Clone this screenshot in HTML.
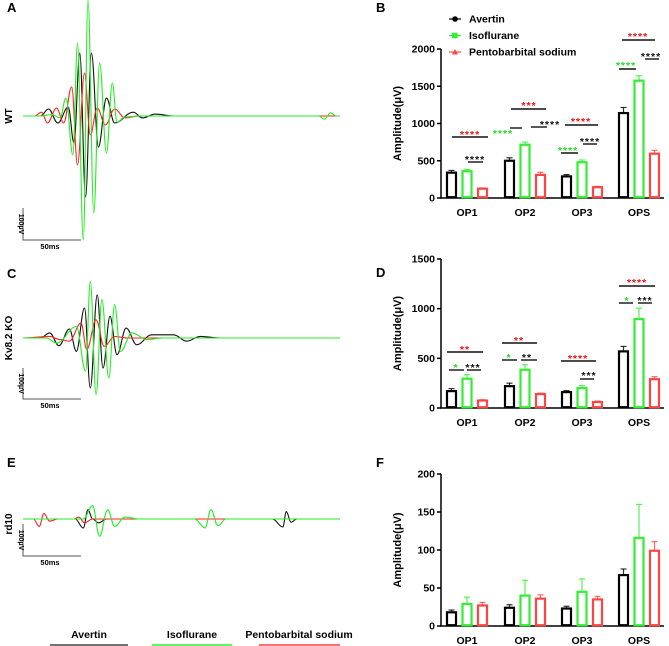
<!DOCTYPE html>
<html><head><meta charset="utf-8"><style>
body{margin:0;background:#fff}
svg{display:block;font-family:"Liberation Sans",sans-serif}
</style></head><body>
<svg id="s" width="669" height="646" viewBox="0 0 669 646">
<g font-weight="bold" font-size="13">
<text x="7" y="12">A</text>
<text x="376" y="12">B</text>
<text x="7" y="278">C</text>
<text x="376" y="277">D</text>
<text x="7" y="467">E</text>
<text x="376" y="467">F</text>
</g>
<g font-weight="bold" font-size="10">
<text transform="translate(12,116) rotate(-90)" text-anchor="middle">WT</text>
<text transform="translate(12,338) rotate(-90)" text-anchor="middle">Kv8.2 KO</text>
<text transform="translate(12,524) rotate(-90)" text-anchor="middle">rd10</text>
</g>
<g id="legend-bottom" font-weight="bold" font-size="10.5">
<text x="89" y="638" text-anchor="middle">Avertin</text>
<line x1="50" y1="645" x2="128" y2="645" stroke="#444" stroke-width="1.5"/>
<text x="192" y="638" text-anchor="middle">Isoflurane</text>
<line x1="152" y1="645" x2="232" y2="645" stroke="#33ee33" stroke-width="1.5"/>
<text x="299" y="638" text-anchor="middle">Pentobarbital sodium</text>
<line x1="259" y1="645" x2="340" y2="645" stroke="#ff4444" stroke-width="1.5"/>
</g>
</svg>
<script>
// ---------- waveform data (time ms, amplitude µV) ----------
const waveA_avertin_t=[0,15,22,30,39,44,49,54,59,65,72,79,95,103,114,130,273];
const waveA_avertin_a=[0,0,22,-22,28,-84,197,-253,197,-97,56,-22,12,-6,6,0,0];
const waveA_iso_t=[0,15,25,32,37,43,47,52,56,61,66,72,77,81,88,100,255,260,265,270,273];
const waveA_iso_a=[0,0,4,-6,56,-122,228,-388,362,-303,166,-116,103,-19,-3,0,0,-10,10,0,0];
const waveA_pento_t=[0,10,16,21,29,35,42,47,53,58,64,71,79,88,100,273];
const waveA_pento_a=[0,0,12,-22,25,-22,91,-153,134,-59,25,-28,22,-6,0,0];
const waveC_avertin_t=[0,15,23,31,40,46,53,58,64,69,75,81,89,98,111,130,141,153,170,273];
const waveC_avertin_a=[0,0,16,-24,28,-42,94,-156,135,-94,68,-52,31,-21,10,10,-10,5,0,0];
const waveC_iso_t=[0,20,29,46,54,58,63,68,74,79,84,94,107,120,273];
const waveC_iso_a=[0,0,-16,36,-104,177,-177,120,-125,104,-42,16,-5,0,0];
const waveC_pento_t=[0,23,32,40,50,55,63,70,79,90,273];
const waveC_pento_a=[0,5,-5,-10,47,-36,57,-26,5,0,0];
const waveE_avertin_t=[0,45,52,56,60,65,72,215,224,227,231,236,273];
const waveE_avertin_a=[0,0,-28,29,0,-12,0,0,-25,23,-10,0,0];
const waveE_iso_t=[0,52,60,66,73,79,88,100,148,157,162,168,175,273];
const waveE_iso_a=[0,0,42,-54,29,-23,6,0,0,-28,29,-21,0,0];
const waveE_pento_t=[0,9,14,18,23,30,44,48,53,60,273];
const waveE_pento_a=[0,0,-23,17,-7,0,0,6,-12,0,0];

// ---------- bar chart data ----------
const categories=["OP1","OP2","OP3","OPS"];
const groups=["Avertin","Isoflurane","Pentobarbital sodium"];
const B_avertin=[340,500,290,1140], B_avertin_err=[30,40,25,75];
const B_iso=[360,715,480,1575], B_iso_err=[25,35,30,65];
const B_pento=[125,310,145,595], B_pento_err=[10,35,10,45];
const B_ticks=[0,500,1000,1500,2000];
const D_avertin=[170,220,160,570], D_avertin_err=[25,30,15,50];
const D_iso=[295,385,200,895], D_iso_err=[40,50,25,110];
const D_pento=[75,140,60,290], D_pento_err=[8,10,10,25];
const D_ticks=[0,500,1000,1500];
const F_avertin=[18,24,23,67], F_avertin_err=[3,4,3,8];
const F_iso=[29,40,45,116], F_iso_err=[9,20,17,44];
const F_pento=[27,36,35,99], F_pento_err=[4,5,4,12];
const F_ticks=[0,50,100,150,200];

const NS="http://www.w3.org/2000/svg";
const svg=document.getElementById('s');
const COL=["#000000","#33ee33","#ff4444"];
const TCOL=["#111111","#22dd22","#ee1111"];
function mk(tag,attrs,parent){const e=document.createElementNS(NS,tag);for(const k in attrs)e.setAttribute(k,attrs[k]);(parent||svg).appendChild(e);return e;}

function smoothPath(pts){
  let d="M"+pts[0][0].toFixed(1)+","+pts[0][1].toFixed(1);
  for(let i=0;i<pts.length-1;i++){
    const p1=pts[i],p2=pts[i+1],dx=(p2[0]-p1[0])*0.38;
    d+="C"+(p1[0]+dx).toFixed(1)+","+p1[1].toFixed(1)+" "+(p2[0]-dx).toFixed(1)+","+p2[1].toFixed(1)+" "+p2[0].toFixed(1)+","+p2[1].toFixed(1);
  }
  return d;
}
function drawWave(ts,as,base,color,name){
  const xs=t=>23+t*1.16, ys=a=>base-a*0.32;
  const pts=ts.map((t,i)=>[xs(t),ys(as[i])]);
  const p=mk('path',{d:smoothPath(pts),fill:"none",stroke:color,"stroke-width":1.1});
  
  
}
drawWave(waveA_avertin_t,waveA_avertin_a,116,"#111","wt-avertin-trace");
drawWave(waveA_pento_t,waveA_pento_a,116,"#ff2222","wt-pentobarbital-trace");
drawWave(waveA_iso_t,waveA_iso_a,116,"#22ee22","wt-isoflurane-trace");
drawWave(waveC_avertin_t,waveC_avertin_a,338,"#111","ko-avertin-trace");
drawWave(waveC_pento_t,waveC_pento_a,338,"#ff2222","ko-pentobarbital-trace");
drawWave(waveC_iso_t,waveC_iso_a,338,"#22ee22","ko-isoflurane-trace");
drawWave(waveE_avertin_t,waveE_avertin_a,519,"#111","rd10-avertin-trace");
drawWave(waveE_pento_t,waveE_pento_a,519,"#ff2222","rd10-pentobarbital-trace");
drawWave(waveE_iso_t,waveE_iso_a,519,"#22ee22","rd10-isoflurane-trace");

// scale bars
[[208,240,252],[368,399,411],[524,556,568]].forEach((s,i)=>{
  const g=mk('g',{});
  
  
  mk('path',{d:`M23,${s[0]}V${s[1]}H81`,stroke:"#555",fill:"none","stroke-width":1},g);
  mk('text',{x:50,y:s[2]-3,"text-anchor":"middle","font-size":"7.5","font-weight":"bold"},g).textContent="50ms";
  const t=mk('text',{transform:`translate(19,${(s[0]+s[1])/2}) rotate(90)`,"text-anchor":"middle","font-size":"7","font-weight":"bold"},g);
  t.textContent="100μV";
});

const cx=[467,525,582,639], off=15.5, bw=9;
function barChart(name,y0,yTop,maxV,ticks,vals,errs,labelY){
  const g=mk('g',{});
  
  
  const ys=v=>y0-(v/maxV)*(y0-yTop);
  mk('line',{x1:441,y1:yTop,x2:441,y2:y0,stroke:"#000","stroke-width":1.5},g);
  mk('line',{x1:440,y1:y0,x2:664,y2:y0,stroke:"#000","stroke-width":1.5},g);
  ticks.forEach(t=>{
    mk('line',{x1:437,y1:ys(t),x2:441,y2:ys(t),stroke:"#000","stroke-width":1.5},g);
    const tx=mk('text',{x:435,y:ys(t)+3.5,"text-anchor":"end","font-size":"10.5","font-weight":"bold"},g);
    tx.textContent=t;
  });
  const yl=mk('text',{transform:`translate(401,${(y0+yTop)/2}) rotate(-90)`,"text-anchor":"middle","font-size":"11","font-weight":"bold"},g);
  yl.textContent="Amplitude(μV)";
  categories.forEach((c,i)=>{
    const t=mk('text',{x:cx[i],y:labelY,"text-anchor":"middle","font-size":"10.5","font-weight":"bold"},g);
    t.textContent=c;
  });
  vals.forEach((arr,gi)=>{
    arr.forEach((v,i)=>{
      const x=cx[i]+(gi-1)*off;
      const top=ys(v), et=ys(v+errs[gi][i]);
      mk('line',{x1:x,y1:top,x2:x,y2:et,stroke:COL[gi],"stroke-width":1.2,opacity:0.8},g);
      mk('line',{x1:x-3,y1:et,x2:x+3,y2:et,stroke:COL[gi],"stroke-width":1.2,opacity:0.8},g);
      const r=mk('rect',{x:x-bw/2,y:top,width:bw,height:y0-top-0.8,fill:"#fff",stroke:COL[gi],"stroke-width":2.2},g);
      
      
    });
  });
}
barChart("chart-b-wt",198,49,2000,B_ticks,[B_avertin,B_iso,B_pento],[B_avertin_err,B_iso_err,B_pento_err],216);
barChart("chart-d-kv82ko",408,259,1500,D_ticks,[D_avertin,D_iso,D_pento],[D_avertin_err,D_iso_err,D_pento_err],426);
barChart("chart-f-rd10",626,474,200,F_ticks,[F_avertin,F_iso,F_pento],[F_avertin_err,F_iso_err,F_pento_err],644);

// legend B
const lg=mk('g',{});


groups.forEach((n,i)=>{
  const y=19+i*16.5;
  mk('line',{x1:449,y1:y,x2:461,y2:y,stroke:COL[i],"stroke-width":1.2},lg);
  if(i==0)mk('circle',{cx:455,cy:y,r:2.8,fill:COL[i]},lg);
  if(i==1)mk('rect',{x:452,y:y-2.8,width:5.6,height:5.6,fill:COL[i]},lg);
  if(i==2)mk('path',{d:`M455,${y-3}L458,${y+2.5}L452,${y+2.5}Z`,fill:COL[i]},lg);
  const t=mk('text',{x:469,y:y+3.5,"font-size":"10.5","font-weight":"bold"},lg);
  t.textContent=n;
});

// significance annotations
const stars=[
 ["****",470,133,2],["****",475,158,0],
 ["***",529,104,2],["****",550,123,0],["****",503,132,1],
 ["****",581,120,2],["****",590,140,0],["****",568,149,1],
 ["****",638,35,2],["****",651,55,0],["****",626,64,1],
 ["**",465,348,2],["*",456,366,1],["***",473,366,0],
 ["**",519,339,2],["*",509,356,1],["**",527,356,0],
 ["****",578,357,2],["***",589,374,0],
 ["****",637,281,2],["*",627,299,1],["***",645,299,0]
];
const slines=[[452,488,137],[468,483,162],[511,546,109],[510,522,128],[531,547,127],[565,598,125],[561,578,153],[583,597,144],[622,655,40],[619,636,69],[645,659,59],
 [447,483,352],[449,464,370],[467,481,370],[502,537,343],[502,517,360],[521,537,360],[561,596,361],[580,594,379],[619,655,286],[619,633,303],[638,652,303]];
const ag=mk('g',{});


slines.forEach(l=>mk('line',{x1:l[0],y1:l[2],x2:l[1],y2:l[2],stroke:"#111","stroke-width":1.4},ag));
stars.forEach(s=>{const t=mk('text',{x:s[1],y:s[2]+5,"text-anchor":"middle","font-size":"10.5","font-weight":"bold",fill:TCOL[s[3]],"letter-spacing":"1"},ag);t.textContent=s[0];});
</script>
</body></html>
